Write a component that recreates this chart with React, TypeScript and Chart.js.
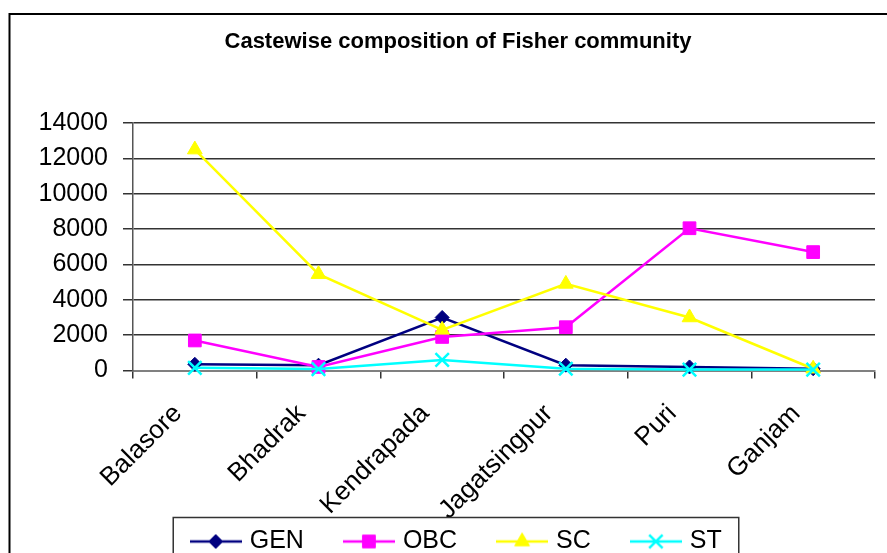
import React, { useEffect, useRef } from "react";
import { Chart, registerables } from "chart.js";
import { drawPoint } from "chart.js/helpers";

Chart.register(...registerables);

// Fisher population by caste group in each coastal district
const districts = ["Balasore", "Bhadrak", "Kendrapada", "Jagatsingpur", "Puri", "Ganjam"];
const genValues = [350, 300, 3000, 300, 200, 100];
const obcValues = [1700, 200, 1900, 2450, 8050, 6700];
const scValues = [12500, 5450, 2300, 4900, 3000, 100];
const stValues = [150, 80, 600, 100, 50, 50];

const yMin = 0;
const yMax = 14000;
const yStep = 2000;
const chartTitle = "Castewise composition of Fisher community";

const FONT = '"Liberation Sans", Arial, Helvetica, sans-serif';

type Series = {
  label: string;
  data: number[];
  color: string;
  pointStyle: string;
  radius: number;
  markerLine: number;
  order: number;
};

const series: Series[] = [
  { label: "GEN", data: genValues, color: "#000080", pointStyle: "rectRot", radius: 7, markerLine: 1, order: 3 },
  { label: "OBC", data: obcValues, color: "#FF00FF", pointStyle: "rect", radius: 9, markerLine: 1, order: 2 },
  { label: "SC", data: scValues, color: "#FFFF00", pointStyle: "triangle", radius: 8.5, markerLine: 1, order: 1 },
  { label: "ST", data: stValues, color: "#00FFFF", pointStyle: "crossRot", radius: 9.5, markerLine: 2.5, order: 0 },
];

// Small line-plus-marker swatch used as the legend symbol
function legendSwatch(s: Series): HTMLCanvasElement {
  const c = document.createElement("canvas");
  c.width = 52;
  c.height = 22;
  const g = c.getContext("2d")!;
  g.strokeStyle = s.color;
  g.lineWidth = 2.5;
  g.beginPath();
  g.moveTo(0, 11);
  g.lineTo(52, 11);
  g.stroke();
  g.fillStyle = s.color;
  g.strokeStyle = s.color;
  g.lineWidth = s.markerLine;
  drawPoint(g, { pointStyle: s.pointStyle as any, radius: s.radius, rotation: 0, borderWidth: s.markerLine }, 26, 11);
  return c;
}

// Outer chart frame and the frame around the legend
const framePlugin = {
  id: "frames",
  afterLayout(chart: any) {
    // let the rotated category names run down past the axis box
    const x = chart.scales.x;
    if (x) x.bottom = chart.height;
  },
  beforeDraw(chart: any) {
    const ctx = chart.ctx;
    ctx.save();
    ctx.fillStyle = "#ffffff";
    ctx.fillRect(0, 0, chart.width, chart.height);
    ctx.strokeStyle = "#000000";
    ctx.lineWidth = 2;
    ctx.strokeRect(9.5, 14, chart.width + 40, chart.height + 40);
    ctx.restore();
  },
  afterDraw(chart: any) {
    const legend = chart.legend;
    const hb = legend && legend.legendHitBoxes;
    if (!hb || !hb.length) return;
    const first = hb[0];
    const last = hb[hb.length - 1];
    const left = first.left - 21;
    const right = last.left + last.width + 17;
    const top = first.top + first.height / 2 - 24;
    const ctx = chart.ctx;
    ctx.save();
    ctx.strokeStyle = "#333333";
    ctx.lineWidth = 1.5;
    ctx.strokeRect(left, top, right - left, chart.height + 40);
    ctx.restore();
  },
};

export default function App() {
  const ref = useRef<HTMLCanvasElement | null>(null);

  useEffect(() => {
    if (!ref.current) return;
    const chart = new Chart(ref.current, {
      type: "line",
      data: {
        labels: districts,
        datasets: series.map((s) => ({
          label: s.label,
          data: s.data,
          borderColor: s.color,
          backgroundColor: s.color,
          borderWidth: 2.5,
          tension: 0,
          pointStyle: s.pointStyle as any,
          pointRadius: s.radius,
          pointHoverRadius: s.radius,
          pointBackgroundColor: s.color,
          pointBorderColor: s.color,
          pointBorderWidth: s.markerLine,
          order: s.order,
          clip: false as any,
        })),
      },
      options: {
        responsive: false,
        animation: false,
        events: [],
        layout: { padding: { left: 36, right: 7, top: 0, bottom: 0 } },
        plugins: {
          title: {
            display: true,
            text: chartTitle,
            color: "#000",
            font: { family: FONT, size: 22, weight: "bold", lineHeight: 1.2 },
            padding: { top: 28.8, bottom: 67.9 },
          },
          legend: {
            position: "bottom",
            labels: {
              usePointStyle: true,
              pointStyleWidth: 43,
              boxHeight: 25,
              padding: 43.5,
              color: "#000",
              font: { family: FONT, size: 25 },
              generateLabels: (c: any) =>
                c.data.datasets.map((d: any, i: number) => ({
                  text: d.label,
                  datasetIndex: i,
                  hidden: false,
                  pointStyle: legendSwatch(series[i]),
                  fillStyle: "rgba(0,0,0,0)",
                  strokeStyle: "rgba(0,0,0,0)",
                  lineWidth: 0,
                  fontColor: "#000",
                })),
            },
          },
          tooltip: { enabled: false },
        },
        scales: {
          x: {
            type: "category",
            offset: true,
            grid: {
              offset: true,
              drawOnChartArea: false,
              drawTicks: true,
              tickLength: 8,
              color: "#333",
              lineWidth: 1.5,
            },
            border: { color: "#808080", width: 2 },
            ticks: {
              autoSkip: false,
              minRotation: 45,
              maxRotation: 45,
              padding: 20,
              labelOffset: -17,
              color: "#000",
              font: { family: FONT, size: 26 },
            },
            afterFit: (s: any) => {
              s.height = 115;
            },
          },
          y: {
            min: yMin,
            max: yMax,
            ticks: {
              stepSize: yStep,
              padding: 15,
              color: "#000",
              font: { family: FONT, size: 25 },
              callback: (v: any) => String(v),
            },
            grid: { color: "#333", lineWidth: 1.5, tickLength: 10 },
            border: { color: "#555", width: 1.5 },
            afterFit: (s: any) => {
              s.width = 97;
            },
          },
        },
      },
      plugins: [framePlugin],
    } as any);
    return () => chart.destroy();
  }, []);

  return (
    <div
      style={{
        position: "fixed",
        left: 0,
        top: 0,
        width: 887,
        height: 553,
        overflow: "hidden",
        background: "#fff",
      }}
    >
      <canvas ref={ref} width={887} height={564} style={{ display: "block" }} />
    </div>
  );
}
